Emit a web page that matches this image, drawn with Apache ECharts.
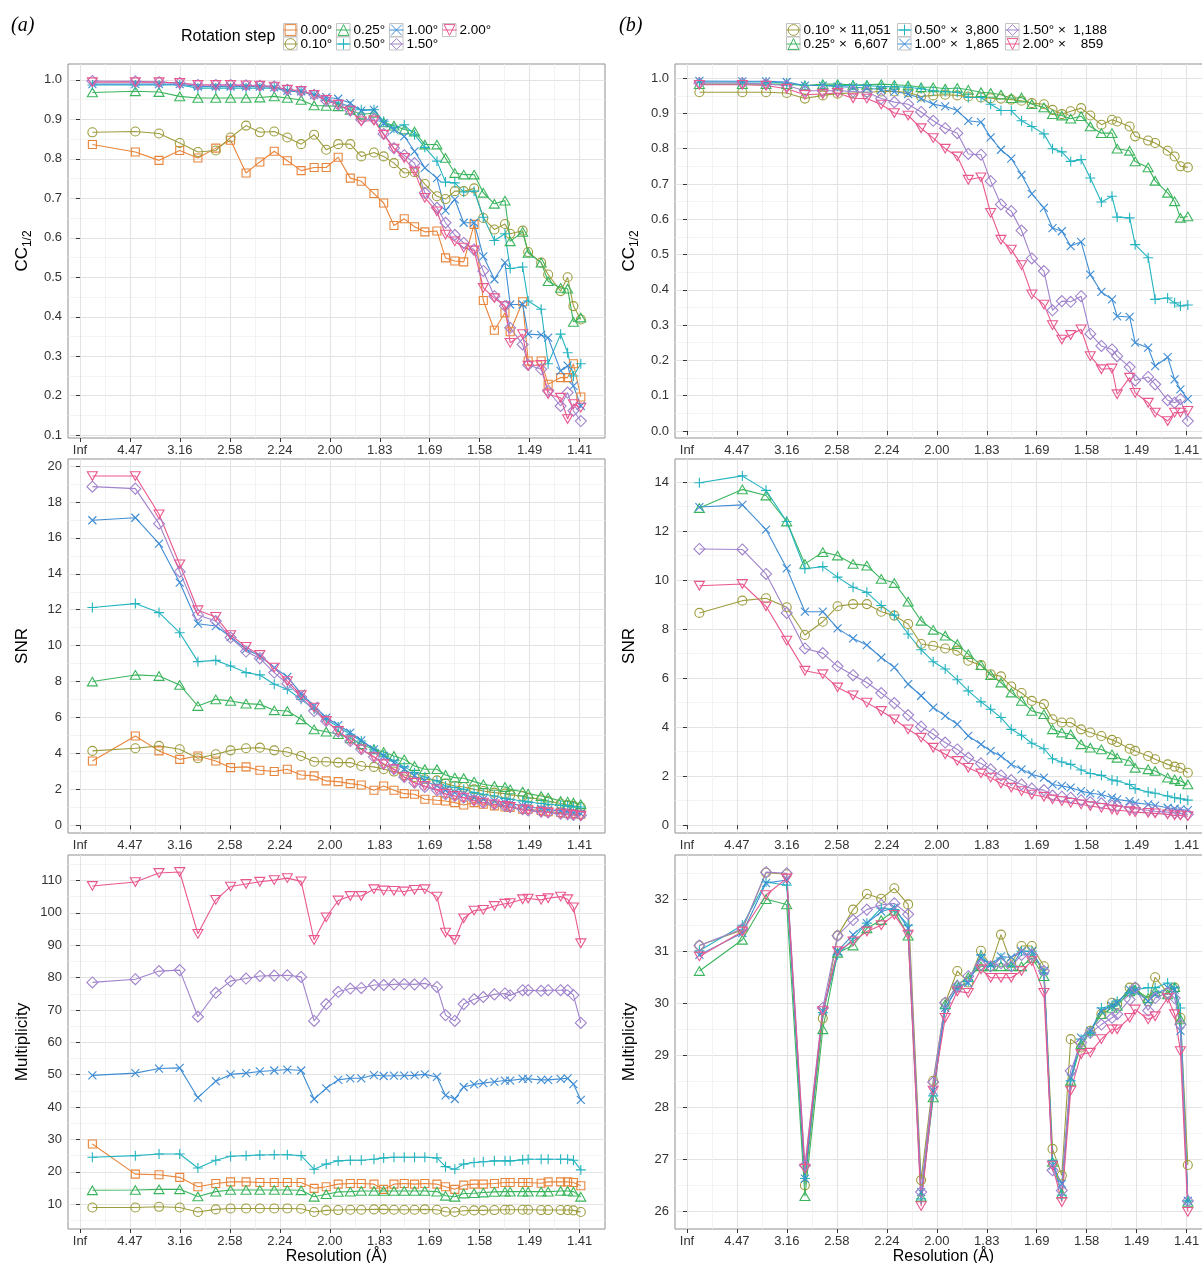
<!DOCTYPE html>
<html><head><meta charset="utf-8">
<script src="https://cdn.jsdelivr.net/npm/echarts@6/dist/echarts.min.js"></script>
<style>html,body{margin:0;padding:0;background:#fff}#c{width:1202px;height:1263px}</style>
</head><body><div id="c"></div><script>
// ---------- data ----------
// resolution bins, in 1/d^2 (Å^-2)
const X_POS = [0.0124,0.0554,0.0791,0.0998,0.1180,0.1359,0.1507,0.1662,0.1800,0.1944,0.2075,0.2213,0.2343,0.2464,0.2584,0.2705,0.2815,0.2942,0.3039,0.3142,0.3245,0.3348,0.3451,0.3572,0.3658,0.3751,0.3840,0.3944,0.4036,0.4147,0.4253,0.4305,0.4430,0.4485,0.4615,0.4685,0.4810,0.4880,0.4938,0.5012];
const X_TICKS = [0,0.05,0.10,0.15,0.20,0.25,0.30,0.35,0.40,0.45,0.50];
const X_TICK_LABELS = ['Inf','4.47','3.16','2.58','2.24','2.00','1.83','1.69','1.58','1.49','1.41'];
const X_MINOR = [0.025,0.075,0.125,0.175,0.225,0.275,0.325,0.375,0.425,0.475];

const STEPS_A = ['0.00°','0.10°','0.25°','0.50°','1.00°','1.50°','2.00°'];
const STEPS_B = ['0.10° × 11,051','0.25° ×  6,607','0.50° ×  3,800','1.00° ×  1,865','1.50° ×  1,188','2.00° ×    859'];

// CC1/2, panel (a)
const CC_A_000 = [0.836,0.817,0.796,0.821,0.802,0.827,0.847,0.764,0.792,0.819,0.795,0.770,0.778,0.778,0.804,0.751,0.743,0.712,0.688,0.631,0.648,0.628,0.615,0.617,0.549,0.541,0.539,0.634,0.441,0.366,0.410,0.362,0.438,0.288,0.288,0.229,0.246,0.246,0.281,0.197];
const CC_A_010 = [0.867,0.869,0.864,0.840,0.817,0.821,0.854,0.884,0.867,0.869,0.854,0.837,0.861,0.823,0.837,0.837,0.806,0.816,0.806,0.789,0.764,0.766,0.736,0.705,0.698,0.718,0.718,0.725,0.650,0.621,0.635,0.610,0.618,0.564,0.537,0.507,0.465,0.500,0.427,0.393];
const CC_A_025 = [0.968,0.971,0.969,0.958,0.954,0.954,0.954,0.954,0.955,0.958,0.954,0.949,0.935,0.934,0.933,0.924,0.912,0.916,0.892,0.884,0.874,0.869,0.836,0.836,0.802,0.764,0.760,0.760,0.714,0.686,0.694,0.591,0.615,0.562,0.537,0.490,0.473,0.471,0.387,0.398];
const CC_A_050 = [0.987,0.987,0.987,0.987,0.979,0.979,0.979,0.979,0.979,0.979,0.972,0.969,0.962,0.949,0.941,0.933,0.924,0.924,0.895,0.878,0.886,0.861,0.829,0.794,0.741,0.739,0.716,0.718,0.652,0.593,0.610,0.522,0.526,0.440,0.419,0.281,0.356,0.309,0.250,0.281];
const CC_A_100 = [0.989,0.989,0.989,0.989,0.983,0.983,0.983,0.983,0.983,0.981,0.972,0.971,0.962,0.956,0.952,0.941,0.922,0.924,0.890,0.874,0.857,0.819,0.777,0.751,0.669,0.697,0.638,0.638,0.553,0.495,0.537,0.431,0.431,0.356,0.354,0.347,0.263,0.276,0.225,0.174];
const CC_A_150 = [0.997,0.996,0.994,0.992,0.987,0.987,0.987,0.986,0.985,0.983,0.975,0.971,0.962,0.947,0.937,0.922,0.899,0.901,0.863,0.827,0.809,0.789,0.714,0.676,0.638,0.607,0.587,0.570,0.516,0.452,0.427,0.372,0.330,0.278,0.267,0.212,0.174,0.208,0.162,0.136];
const CC_A_200 = [0.994,0.994,0.994,0.992,0.987,0.987,0.987,0.986,0.985,0.983,0.975,0.972,0.962,0.949,0.937,0.922,0.895,0.897,0.861,0.826,0.802,0.768,0.701,0.667,0.608,0.591,0.575,0.568,0.473,0.447,0.427,0.334,0.356,0.276,0.278,0.204,0.195,0.141,0.179,0.170];

// CC1/2, panel (b)
const CC_B_010 = [0.960,0.960,0.960,0.958,0.942,0.951,0.956,0.958,0.960,0.962,0.962,0.960,0.948,0.951,0.953,0.951,0.948,0.945,0.943,0.942,0.939,0.936,0.929,0.926,0.910,0.898,0.906,0.915,0.894,0.868,0.882,0.877,0.863,0.835,0.823,0.816,0.794,0.778,0.750,0.747];
const CC_B_025 = [0.983,0.983,0.983,0.983,0.979,0.983,0.983,0.981,0.981,0.983,0.981,0.979,0.974,0.974,0.970,0.972,0.967,0.960,0.958,0.953,0.943,0.945,0.926,0.917,0.898,0.894,0.885,0.892,0.863,0.844,0.844,0.800,0.794,0.764,0.747,0.709,0.675,0.651,0.604,0.608];
const CC_B_050 = [0.989,0.989,0.989,0.986,0.979,0.979,0.979,0.979,0.979,0.976,0.976,0.974,0.970,0.964,0.962,0.960,0.945,0.945,0.926,0.908,0.908,0.879,0.863,0.842,0.800,0.791,0.764,0.769,0.717,0.649,0.665,0.606,0.604,0.528,0.491,0.373,0.377,0.363,0.354,0.357];
const CC_B_100 = [0.992,0.991,0.991,0.989,0.979,0.979,0.976,0.974,0.972,0.967,0.962,0.955,0.942,0.926,0.920,0.908,0.879,0.875,0.832,0.797,0.772,0.726,0.672,0.632,0.575,0.566,0.524,0.536,0.443,0.394,0.373,0.325,0.323,0.250,0.236,0.184,0.209,0.146,0.118,0.090];
const CC_B_150 = [0.986,0.986,0.983,0.979,0.964,0.964,0.964,0.962,0.960,0.942,0.932,0.926,0.904,0.879,0.858,0.844,0.785,0.783,0.708,0.642,0.623,0.568,0.489,0.453,0.342,0.368,0.366,0.382,0.275,0.241,0.231,0.212,0.181,0.143,0.153,0.132,0.087,0.080,0.090,0.028];
const CC_B_200 = [0.981,0.981,0.979,0.970,0.953,0.955,0.958,0.943,0.942,0.925,0.901,0.894,0.858,0.830,0.800,0.778,0.712,0.719,0.618,0.542,0.514,0.470,0.387,0.358,0.300,0.259,0.272,0.288,0.212,0.175,0.177,0.104,0.151,0.108,0.080,0.052,0.028,0.052,0.052,0.057];

// SNR, panel (a)
const SNR_A_000 = [3.58,4.97,4.14,3.67,3.86,3.58,3.21,3.25,3.06,2.99,3.12,2.80,2.75,2.47,2.43,2.32,2.24,1.95,2.19,1.95,1.76,1.73,1.45,1.39,1.35,1.26,1.13,1.26,1.17,1.08,1.02,0.99,0.89,0.89,0.83,0.76,0.71,0.67,0.65,0.61];
const SNR_A_010 = [4.14,4.29,4.42,4.23,3.73,3.95,4.17,4.29,4.32,4.17,4.08,3.86,3.54,3.54,3.49,3.49,3.30,3.25,3.12,2.99,2.80,2.69,2.56,2.50,2.32,2.19,2.13,2.00,1.91,1.82,1.76,1.69,1.63,1.54,1.45,1.35,1.21,1.13,1.08,1.02];
const SNR_A_025 = [8.00,8.37,8.31,7.81,6.64,7.01,6.92,6.77,6.73,6.40,6.36,5.90,5.34,5.21,5.07,4.84,4.51,4.23,4.08,3.86,3.67,3.30,3.12,3.12,2.80,2.65,2.62,2.43,2.28,2.19,2.13,2.00,1.87,1.76,1.63,1.54,1.35,1.32,1.26,1.17];
const SNR_A_050 = [12.12,12.34,11.84,10.72,9.11,9.18,8.87,8.50,8.37,7.85,7.57,7.01,6.46,5.90,5.47,5.07,4.69,4.23,3.91,3.58,3.25,2.93,2.69,2.47,2.19,2.10,2.00,1.82,1.73,1.63,1.50,1.45,1.35,1.30,1.21,1.17,1.11,1.08,1.04,1.02];
const SNR_A_100 = [16.98,17.12,15.68,13.51,11.22,11.09,10.48,9.80,9.42,8.78,8.26,7.33,6.64,5.99,5.58,5.16,4.73,4.23,3.86,3.49,3.12,2.75,2.47,2.19,1.95,1.82,1.73,1.54,1.45,1.35,1.26,1.21,1.08,1.02,0.93,0.87,0.80,0.76,0.71,0.65];
const SNR_A_150 = [18.85,18.74,16.79,14.12,11.71,11.37,10.45,9.67,9.29,8.50,7.88,7.14,6.36,5.81,5.21,4.69,4.23,3.80,3.43,3.12,2.69,2.37,2.13,1.95,1.73,1.63,1.54,1.39,1.26,1.17,1.08,1.02,0.89,0.83,0.76,0.71,0.65,0.61,0.58,0.56];
const SNR_A_200 = [19.44,19.44,17.31,14.53,11.97,11.60,10.59,9.93,9.48,8.78,8.03,7.25,6.55,5.81,5.25,4.73,4.23,3.80,3.40,3.12,2.69,2.37,2.19,2.00,1.76,1.63,1.54,1.35,1.26,1.17,1.08,1.02,0.89,0.83,0.74,0.71,0.65,0.61,0.58,0.52];

// SNR, panel (b)
const SNR_B_010 = [8.66,9.16,9.26,8.89,7.76,8.30,8.93,9.02,9.02,8.71,8.55,8.21,7.39,7.32,7.21,7.12,6.71,6.53,6.16,6.07,5.66,5.39,5.07,4.94,4.32,4.19,4.19,3.91,3.78,3.64,3.48,3.39,3.12,3.03,2.82,2.69,2.48,2.39,2.34,2.14];
const SNR_B_025 = [12.94,13.70,13.45,12.39,10.66,11.14,11.00,10.66,10.59,10.05,9.88,9.12,8.34,7.97,7.73,7.39,6.98,6.53,6.12,5.82,5.41,5.07,4.66,4.53,3.91,3.78,3.71,3.30,3.16,3.09,2.89,2.75,2.62,2.34,2.28,2.21,1.94,1.87,1.80,1.66];
const SNR_B_050 = [13.97,14.25,13.66,12.39,10.46,10.55,10.12,9.71,9.50,8.96,8.57,7.80,7.16,6.67,6.37,5.93,5.48,5.03,4.73,4.39,3.91,3.67,3.34,3.12,2.71,2.58,2.48,2.25,2.11,2.03,1.84,1.80,1.66,1.49,1.35,1.30,1.19,1.12,1.08,1.02];
const SNR_B_100 = [12.98,13.07,12.06,10.48,8.71,8.71,8.03,7.62,7.35,6.84,6.44,5.75,5.28,4.80,4.46,4.12,3.64,3.30,3.03,2.82,2.48,2.28,2.07,1.94,1.66,1.60,1.53,1.39,1.30,1.25,1.12,1.05,0.98,0.91,0.85,0.80,0.71,0.67,0.64,0.61];
const SNR_B_150 = [11.27,11.25,10.25,8.66,7.21,7.02,6.48,6.12,5.82,5.39,4.98,4.49,4.02,3.71,3.37,3.09,2.75,2.52,2.28,2.03,1.84,1.66,1.49,1.43,1.21,1.16,1.12,1.02,0.94,0.89,0.80,0.78,0.71,0.67,0.61,0.57,0.53,0.50,0.48,0.44];
const SNR_B_200 = [9.77,9.84,8.93,7.53,6.30,6.16,5.62,5.30,5.00,4.66,4.32,3.91,3.57,3.16,2.89,2.62,2.34,2.11,1.94,1.70,1.53,1.39,1.25,1.16,1.05,0.98,0.91,0.85,0.78,0.71,0.64,0.61,0.57,0.53,0.50,0.48,0.44,0.40,0.40,0.37];

// Multiplicity, panel (a)
const MULT_A_000 = [28.6,19.3,19.1,18.3,15.4,16.4,16.9,16.9,16.7,16.7,16.7,16.7,14.9,15.4,16.2,16.4,16.4,16.2,14.6,16.2,16.4,16.2,16.4,16.2,15.4,14.6,15.9,16.2,16.2,16.4,16.7,16.7,16.7,16.7,16.5,16.9,16.9,16.9,16.7,15.7];
const MULT_A_010 = [9.0,9.0,9.2,9.0,7.6,8.4,8.7,8.7,8.7,8.7,8.7,8.6,7.6,8.1,8.2,8.3,8.3,8.4,8.4,8.3,8.3,8.3,8.4,8.3,7.7,7.6,8.0,8.1,8.1,8.2,8.3,8.3,8.3,8.3,8.2,8.2,8.2,8.2,8.1,7.6];
const MULT_A_025 = [14.3,14.4,14.6,14.6,12.4,13.9,14.4,14.4,14.4,14.4,14.4,14.3,12.3,13.1,13.8,13.9,14.1,14.1,14.1,14.1,14.1,14.1,14.1,13.9,12.6,12.3,13.3,13.4,13.6,13.8,13.9,13.9,13.9,13.9,13.9,13.9,14.1,14.1,13.9,12.3];
const MULT_A_050 = [24.5,25.0,25.5,25.5,21.2,23.6,24.8,25.0,25.2,25.3,25.3,25.0,20.8,22.4,23.4,23.6,23.6,23.9,24.3,24.5,24.5,24.5,24.5,24.3,21.6,20.8,22.4,22.9,23.1,23.4,23.4,23.4,23.7,23.9,23.9,23.9,23.9,23.9,23.6,20.6];
const MULT_A_100 = [49.8,50.5,51.9,52.1,42.9,48.0,50.1,50.5,51.0,51.3,51.6,51.3,42.5,45.8,48.4,48.9,48.9,49.9,49.6,49.7,49.7,49.8,50.1,49.3,43.6,42.5,46.2,47.0,47.4,47.8,48.2,48.2,48.7,48.7,48.4,48.4,48.7,48.9,47.1,42.2];
const MULT_A_150 = [78.5,79.5,82.0,82.3,67.9,75.3,78.9,79.7,80.5,80.6,80.7,80.2,66.6,71.8,75.6,76.6,76.8,77.7,77.7,77.9,78.0,77.9,78.2,77.1,68.4,66.6,71.8,73.3,74.0,74.8,75.1,74.5,76.1,76.1,75.9,76.1,76.1,76.1,74.6,66.0];
const MULT_A_200 = [108.3,109.5,112.3,112.6,93.5,104.0,108.1,108.9,109.6,110.1,110.7,109.7,91.6,98.6,103.8,105.2,105.2,107.3,106.9,106.8,106.6,107.1,107.3,105.0,93.9,91.6,98.3,100.7,100.9,102.1,102.8,103.0,104.2,104.4,104.0,104.5,105.0,104.2,101.7,90.6];

// Multiplicity, panel (b)
const MULT_B_010 = [31.11,31.41,32.51,32.48,26.50,29.71,31.30,31.80,32.10,32.01,32.21,31.90,26.60,28.51,30.01,30.62,30.40,31.01,30.71,31.32,30.77,31.10,31.10,30.71,27.20,26.69,29.31,29.15,29.47,29.79,30.01,29.98,30.30,30.30,30.04,30.50,30.20,30.30,29.72,26.89];
const MULT_B_025 = [30.62,31.22,32.00,31.90,26.29,29.50,30.97,31.11,31.44,31.60,31.78,31.30,26.28,28.19,29.98,30.36,30.50,30.71,30.71,30.71,30.71,30.71,30.87,30.52,26.95,26.34,28.51,29.21,29.47,29.79,29.91,29.95,30.23,30.26,30.10,30.23,30.17,30.31,29.69,26.18];
const MULT_B_050 = [31.01,31.50,32.33,32.27,26.63,29.82,30.93,31.24,31.54,31.83,31.80,31.50,26.24,28.22,29.91,30.30,30.42,30.93,30.71,30.87,30.71,31.00,31.00,30.58,26.98,26.31,28.51,29.31,29.42,29.91,29.95,30.04,30.20,30.26,30.30,30.30,30.39,30.30,29.91,26.20];
const MULT_B_100 = [30.93,31.35,32.31,32.37,26.63,29.85,31.00,31.32,31.54,31.76,31.84,31.44,26.37,28.32,29.91,30.30,30.39,30.87,30.74,30.90,30.88,31.00,31.00,30.62,26.88,26.53,28.57,29.34,29.47,29.85,29.95,30.01,30.26,30.24,30.04,30.17,30.30,30.26,29.47,26.20];
const MULT_B_150 = [31.11,31.43,32.52,32.50,26.88,29.91,31.30,31.60,31.80,31.89,31.92,31.71,26.37,28.48,30.01,30.33,30.52,30.74,30.71,30.77,30.71,30.93,30.93,30.62,26.79,26.40,28.70,29.24,29.43,29.59,29.72,29.79,30.07,30.30,29.86,30.10,30.20,30.10,29.59,26.20];
const MULT_B_200 = [30.90,31.38,32.08,32.40,26.82,29.85,31.00,31.19,31.38,31.50,31.70,31.32,26.10,28.32,29.72,30.23,30.20,30.65,30.49,30.49,30.49,30.62,30.81,30.20,26.88,26.18,28.32,29.02,29.05,29.31,29.50,29.50,29.72,29.88,29.69,29.75,30.10,29.79,29.08,25.99];

// y tick values
const Y_CC_A = [0.1,0.2,0.3,0.4,0.5,0.6,0.7,0.8,0.9,1.0];
const Y_CC_A_MINOR = [0.15,0.25,0.35,0.45,0.55,0.65,0.75,0.85,0.95];
const Y_CC_B = [0.0,0.1,0.2,0.3,0.4,0.5,0.6,0.7,0.8,0.9,1.0];
const Y_CC_B_MINOR = [0.05,0.15,0.25,0.35,0.45,0.55,0.65,0.75,0.85,0.95];
const Y_SNR_A = [0,2,4,6,8,10,12,14,16,18,20];
const Y_SNR_A_MINOR = [1,3,5,7,9,11,13,15,17,19];
const Y_SNR_B = [0,2,4,6,8,10,12,14];
const Y_SNR_B_MINOR = [1,3,5,7,9,11,13];
const Y_MULT_A = [10,20,30,40,50,60,70,80,90,100,110];
const Y_MULT_A_MINOR = [5,15,25,35,45,55,65,75,85,95,105,115];
const Y_MULT_B = [26,27,28,29,30,31,32];
const Y_MULT_B_MINOR = [26.5,27.5,28.5,29.5,30.5,31.5,32.5];

// ---------- styling ----------
const FONT = '"Liberation Sans", Arial, Helvetica, sans-serif';
const COLORS = ['#E8853B','#9D9C3E','#3BB55D','#24B4C0','#3F8DD4','#A083CC','#E9578F'];
const SYMS = [
  {s:'rect', z:8},
  {s:'circle', z:9},
  {s:'path://M5,0L10,8.66L0,8.66Z', z:10},
  {s:'path://M5,0V10M0,5H10', z:10},
  {s:'path://M0,0L10,10M10,0L0,10', z:8},
  {s:'diamond', z:11},
  {s:'path://M0,0L10,0L5,8.66Z', z:10}
];

const LEFT_A = 68, LEFT_B = 675, GW = 537;
const ROWS = [{top:64,h:374},{top:459,h:374},{top:855,h:374}];
const XMIN = -0.012, XMAX = 0.5254;

const PANELS = [
  {col:0,row:0, min:0.093, max:1.040, ticks:Y_CC_A, minor:Y_CC_A_MINOR, dec:1, name:'cc',
   series:[CC_A_000,CC_A_010,CC_A_025,CC_A_050,CC_A_100,CC_A_150,CC_A_200]},
  {col:1,row:0, min:-0.020, max:1.040, ticks:Y_CC_B, minor:Y_CC_B_MINOR, dec:1, name:'cc',
   series:[null,CC_B_010,CC_B_025,CC_B_050,CC_B_100,CC_B_150,CC_B_200]},
  {col:0,row:1, min:-0.43, max:20.39, ticks:Y_SNR_A, minor:Y_SNR_A_MINOR, dec:0, name:'SNR',
   series:[SNR_A_000,SNR_A_010,SNR_A_025,SNR_A_050,SNR_A_100,SNR_A_150,SNR_A_200]},
  {col:1,row:1, min:-0.32, max:14.94, ticks:Y_SNR_B, minor:Y_SNR_B_MINOR, dec:0, name:'SNR',
   series:[null,SNR_B_010,SNR_B_025,SNR_B_050,SNR_B_100,SNR_B_150,SNR_B_200]},
  {col:0,row:2, min:2.35, max:117.85, ticks:Y_MULT_A, minor:Y_MULT_A_MINOR, dec:0, name:'Multiplicity',
   series:[MULT_A_000,MULT_A_010,MULT_A_025,MULT_A_050,MULT_A_100,MULT_A_150,MULT_A_200]},
  {col:1,row:2, min:25.66, max:32.85, ticks:Y_MULT_B, minor:Y_MULT_B_MINOR, dec:0, name:'Multiplicity',
   series:[null,MULT_B_010,MULT_B_025,MULT_B_050,MULT_B_100,MULT_B_150,MULT_B_200]}
];

const grids = [], xAxes = [], yAxes = [], series = [];
const labelStyle = {fontSize:13, color:'#333', fontFamily:FONT};
PANELS.forEach((p, g) => {
  grids.push({left: p.col ? LEFT_B : LEFT_A, top: ROWS[p.row].top, width: GW, height: ROWS[p.row].h,
    show:true, borderColor:'#8f8f8f', borderWidth:1, backgroundColor:'#fff',
    containLabel:false, outerBoundsMode:'none'});
  const bottom = p.row === 2;
  xAxes.push({type:'value', gridIndex:g, min:XMIN, max:XMAX, position:'bottom',
    axisLine:{show:false},
    axisTick:{show:true, customValues:X_TICKS, length:4, lineStyle:{color:'#333', width:1}},
    axisLabel:Object.assign({customValues:X_TICKS, margin:6,
      formatter:v => X_TICK_LABELS[Math.round(v/0.05)]}, labelStyle),
    splitLine:{show:true, lineStyle:{color:'#e3e3e3', width:1.1}},
    name: bottom ? 'Resolution (Å)' : '', nameLocation:'middle', nameGap:19,
    nameTextStyle:{fontSize:16, color:'#000', fontFamily:FONT}});
  xAxes.push({type:'value', gridIndex:g, min:XMIN, max:XMAX, position:'top',
    axisLine:{show:false}, axisTick:{show:false, customValues:X_MINOR}, axisLabel:{show:false},
    splitLine:{show:true, lineStyle:{color:'#f0f0f0', width:0.8}}});
  const isCC = p.name === 'cc';
  yAxes.push({type:'value', gridIndex:g, min:p.min, max:p.max, position:'left',
    axisLine:{show:false},
    axisTick:{show:true, customValues:p.ticks, length:4, lineStyle:{color:'#333', width:1}},
    axisLabel:Object.assign({customValues:p.ticks, margin:6,
      formatter:v => v.toFixed(p.dec)}, labelStyle),
    splitLine:{show:true, lineStyle:{color:'#e3e3e3', width:1.1}},
    name: isCC ? '{m|CC}{s|1/2}' : p.name, nameLocation:'middle', nameGap:37, nameRotate:90,
    nameTextStyle:{fontSize:17, color:'#000', fontFamily:FONT,
      rich:{m:{fontSize:17, fontFamily:FONT, color:'#000', verticalAlign:'top', lineHeight:17},
            s:{fontSize:12, fontFamily:FONT, color:'#000', verticalAlign:'top', lineHeight:12, padding:[8,0,0,0]}}}});
  yAxes.push({type:'value', gridIndex:g, min:p.min, max:p.max, position:'right',
    axisLine:{show:false}, axisTick:{show:false, customValues:p.minor}, axisLabel:{show:false},
    splitLine:{show:true, lineStyle:{color:'#f0f0f0', width:0.8}}});
  p.series.forEach((ys, k) => {
    if (!ys) return;
    const name = p.col ? STEPS_B[k-1] : STEPS_A[k];
    series.push({type:'line', name, xAxisIndex:2*g, yAxisIndex:2*g,
      data: X_POS.map((x,i) => [x, ys[i]]),
      symbol:SYMS[k].s, symbolSize:SYMS[k].z, symbolKeepAspect:true,
      showSymbol:true, showAllSymbol:true, clip:false,
      lineStyle:{color:COLORS[k], width:1.1},
      itemStyle:{color:'rgba(0,0,0,0)', borderColor:COLORS[k], borderWidth:1.1},
      emphasis:{disabled:true}, animation:false, z:3});
  });
});

const legCommon = {orient:'vertical', itemWidth:14, itemHeight:13.5, itemGap:0, padding:0,
  selectedMode:false, top:23,
  itemStyle:{color:'rgba(0,0,0,0)', borderWidth:1},
  lineStyle:{width:1},
  textStyle:{fontSize:13.5, color:'#000', fontFamily:FONT, lineHeight:13.5, padding:[0,0,0,-2]}};
const legends = [
  Object.assign({data:[STEPS_A[0],STEPS_A[1]], left:283}, legCommon),
  Object.assign({data:[STEPS_A[2],STEPS_A[3]], left:336}, legCommon),
  Object.assign({data:[STEPS_A[4],STEPS_A[5]], left:389}, legCommon),
  Object.assign({data:[STEPS_A[6]], left:442}, legCommon),
  Object.assign({data:[STEPS_B[0],STEPS_B[1]], left:786}, legCommon),
  Object.assign({data:[STEPS_B[2],STEPS_B[3]], left:897}, legCommon),
  Object.assign({data:[STEPS_B[4],STEPS_B[5]], left:1005}, legCommon)
];
const keyBoxes = [];
[[283,2],[336,2],[389,2],[442,1],[786,2],[897,2],[1005,2]].forEach(([l,n]) => {
  for (let i=0;i<n;i++) keyBoxes.push({type:'rect', shape:{x:l+0.5, y:23.5+i*13.5, width:13.5, height:13},
    style:{fill:'#fff', stroke:'#c4c4c4', lineWidth:1}, z:0, silent:true});
});

const chart = echarts.init(document.getElementById('c'), null, {renderer:'canvas'});
chart.setOption({
  animation:false,
  backgroundColor:'#fff',
  grid:grids, xAxis:xAxes, yAxis:yAxes, series:series, legend:legends,
  graphic:[
    ...keyBoxes,
    {type:'text', left:11, top:16, style:{text:'(a)', font:'italic 20px "Liberation Serif", "Times New Roman", serif', fill:'#000'}},
    {type:'text', left:619, top:16, style:{text:'(b)', font:'italic 20px "Liberation Serif", "Times New Roman", serif', fill:'#000'}},
    {type:'text', left:181, top:29, style:{text:'Rotation step', font:'16px "Liberation Sans", Arial, sans-serif', fill:'#000'}}
  ]
});
</script></body></html>
